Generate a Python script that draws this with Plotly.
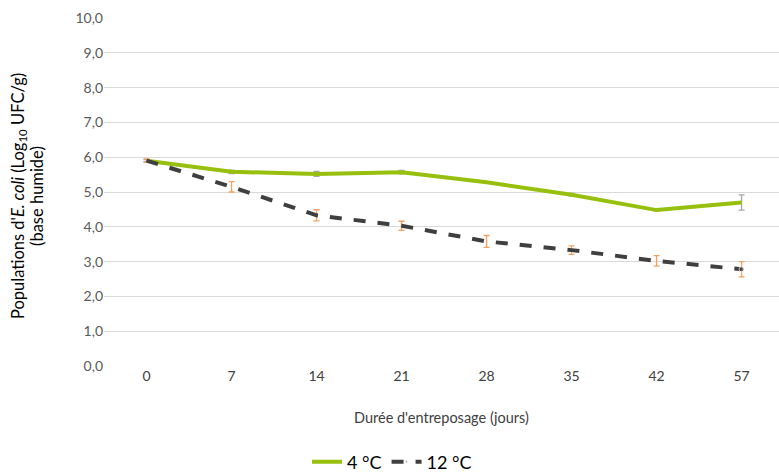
import plotly.graph_objects as go

days = ["0", "7", "14", "21", "28", "35", "42", "57"]
temp4 = [5.90, 5.58, 5.52, 5.57, 5.28, 4.92, 4.48, 4.70]
temp4_err = [0.03, 0.05, 0.07, 0.05, 0.02, 0.04, 0.02, 0.22]
temp12 = [5.90, 5.15, 4.33, 4.03, 3.58, 3.33, 3.02, 2.78]
temp12_err = [0.05, 0.15, 0.16, 0.13, 0.17, 0.12, 0.15, 0.22]
yticks = [0, 1, 2, 3, 4, 5, 6, 7, 8, 9, 10]
yticklabels = ["0,0", "1,0", "2,0", "3,0", "4,0", "5,0", "6,0", "7,0", "8,0", "9,0", "10,0"]

xpos = list(range(len(days)))
font = "Lato, 'Open Sans', sans-serif"

fig = go.Figure()
fig.add_trace(go.Scatter(
    x=xpos, y=temp4, name="4 °C", mode="lines",
    line=dict(color="#97c00e", width=4),
    error_y=dict(type="data", array=temp4_err, color="#a6a6a6", thickness=1.3, width=3),
))
fig.add_trace(go.Scatter(
    x=xpos, y=temp12, name="12 °C", mode="lines+markers",
    line=dict(color="#3f3f3f", width=4, dash="dash"),
    marker=dict(size=[0, 0, 0, 0, 0, 0, 0, 5], color="#3f3f3f"),
    error_y=dict(type="data", array=temp12_err, color="#f4a261", thickness=1.3, width=3),
))

ytitle_center = (366 - 196) / 348

fig.update_layout(
    width=779, height=474,
    margin=dict(l=104, r=0, t=18, b=108, autoexpand=False),
    paper_bgcolor="white", plot_bgcolor="white",
    font=dict(family=font, size=14, color="#595959"),
    showlegend=True,
    legend=dict(orientation="h", xref="paper", yref="paper",
                x=(392 - 104) / 675, xanchor="center", y=(366 - 462) / 348, yanchor="middle",
                font=dict(size=18, color="#000000"), itemwidth=30,
                tracegroupgap=0, bgcolor="rgba(0,0,0,0)"),
    xaxis=dict(range=[-0.5, 7.44], tickvals=xpos, ticktext=days, automargin=False,
               showgrid=False, zeroline=False, showline=False, ticks="",
               tickfont=dict(size=14, color="#404040")),
    yaxis=dict(range=[0, 10], tickvals=yticks, ticktext=yticklabels, automargin=False,
               showgrid=True, gridcolor="#d9d9d9", gridwidth=1,
               zeroline=False, showline=False, ticks="", ticklen=0,
               tickfont=dict(size=14, color="#595959")),
    annotations=[
        dict(text="Durée d'entreposage (jours)", xref="paper", yref="paper",
             x=0.5, y=0, yanchor="middle", yshift=-51, showarrow=False,
             font=dict(size=14.5, color="#404040")),
        dict(text="Populations d'<i>E. coli</i> (Log<sub>10</sub> UFC/g)",
             xref="paper", yref="paper", xanchor="center", yanchor="middle",
             x=0, y=ytitle_center, xshift=-86, textangle=-90, showarrow=False,
             font=dict(size=16.5, color="#000000")),
        dict(text="(base humide)",
             xref="paper", yref="paper", xanchor="center", yanchor="middle",
             x=0, y=ytitle_center, xshift=-67, textangle=-90, showarrow=False,
             font=dict(size=16.5, color="#000000")),
    ],
)

fig.write_html("out.html", config={"displayModeBar": False},
               post_script="document.body.style.margin='0';document.body.style.overflow='hidden';")
